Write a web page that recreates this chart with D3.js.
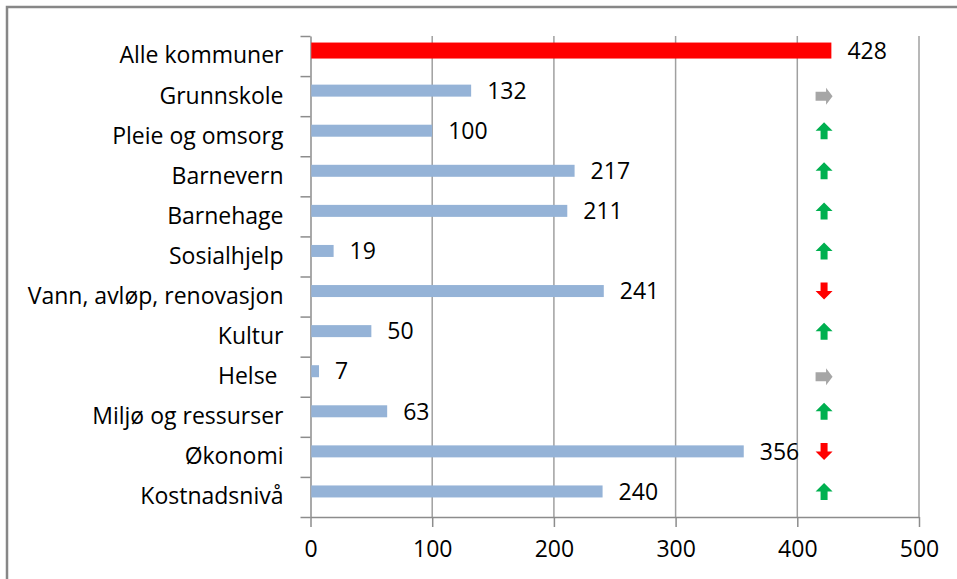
<!DOCTYPE html>
<html>
<head>
<meta charset="utf-8">
<script src="https://cdn.jsdelivr.net/npm/d3@7"></script>
<style>
  body { margin: 0; background: #fff; }
  text { font-family: "Open Sans", sans-serif; fill: #000; }
</style>
</head>
<body>
<div class="chart"></div>
<script>
'use strict';

// categories, top to bottom
var categories = ["Alle kommuner", "Grunnskole", "Pleie og omsorg", "Barnevern",
  "Barnehage", "Sosialhjelp", "Vann, avløp, renovasjon", "Kultur", "Helse\u00a0",
  "Miljø og ressurser", "Økonomi", "Kostnadsnivå"];
var values = [428, 132, 100, 217, 211, 19, 241, 50, 7, 63, 356, 240];
// trend markers: up, down, right (none for the total)
var trends = [null, "right", "up", "up", "up", "up", "down", "up", "right", "up", "down", "up"];
var xTicks = [0, 100, 200, 300, 400, 500];

function run() {
  var owidth = 957, oheight = 579;
  var m = {left: 310.5, right: 919, top: 36, bottom: 517};
  var trendAt = 422;
  var fs = "23px";

  var svg = d3.select(".chart").append("svg")
    .attr("width", owidth)
    .attr("height", oheight);

  // outer frame (runs off the page on right/bottom)
  svg.append("rect")
    .attr("x", 7).attr("y", 7)
    .attr("width", 1000).attr("height", 1000)
    .attr("fill", "none")
    .attr("stroke", "#878787")
    .attr("stroke-width", 2.5);

  var x = d3.scaleLinear().domain([0, 500]).range([m.left, m.right]);
  var y = d3.scaleBand().domain(categories).range([m.top, m.bottom]);
  var yEdge = d3.scaleLinear().domain([0, categories.length]).range([m.top, m.bottom]);

  // gridlines
  svg.append("g").selectAll("line")
    .data(xTicks.slice(1))
    .enter().append("line")
    .attr("x1", function(d) { return x(d); })
    .attr("x2", function(d) { return x(d); })
    .attr("y1", m.top).attr("y2", m.bottom)
    .attr("stroke", "#a0a0a0")
    .attr("stroke-width", 1.5);

  // x axis
  var xAxis = svg.append("g")
    .attr("transform", "translate(0," + m.bottom + ")")
    .call(d3.axisBottom(x).tickValues(xTicks).tickSize(10).tickPadding(14).tickSizeOuter(0));
  xAxis.select(".domain").attr("stroke", "#8c8c8c").attr("stroke-width", 1.5);
  xAxis.selectAll(".tick line").attr("stroke", "#8c8c8c").attr("stroke-width", 1.5);
  xAxis.selectAll("text").style("font-size", fs).attr("fill", "#000");

  // y axis: ticks at category edges
  var yTicks = svg.append("g")
    .attr("transform", "translate(" + m.left + ",0)")
    .call(d3.axisLeft(yEdge).ticks(categories.length).tickSize(10).tickFormat("").tickSizeOuter(0));
  yTicks.select(".domain").attr("stroke", "#8c8c8c").attr("stroke-width", 1.5);
  yTicks.selectAll(".tick line").attr("stroke", "#8c8c8c").attr("stroke-width", 1.5);

  // y axis labels
  var yLabels = svg.append("g")
    .attr("transform", "translate(" + m.left + ",0)")
    .call(d3.axisLeft(y).tickSize(0).tickPadding(27));
  yLabels.select(".domain").remove();
  yLabels.selectAll("text").style("font-size", fs).style("white-space", "pre").attr("fill", "#000");

  // bars
  var barOffset = -5.5;
  function barH(i) { return i === 0 ? 16 : 12; }
  svg.append("g").selectAll("rect")
    .data(values)
    .enter().append("rect")
    .attr("x", x(0) + 0.75)
    .attr("y", function(d, i) {
      return y(categories[i]) + y.bandwidth() / 2 + barOffset - barH(i) / 2;
    })
    .attr("width", function(d) { return x(d) - x(0) - 0.75; })
    .attr("height", function(d, i) { return barH(i); })
    .attr("fill", function(d, i) { return i === 0 ? "#ff0000" : "#95b3d7"; });

  // value labels
  svg.append("g").selectAll("text")
    .data(values)
    .enter().append("text")
    .attr("x", function(d) { return x(d) + 16; })
    .attr("y", function(d, i) { return y(categories[i]) + y.bandwidth() / 2 + barOffset; })
    .attr("dy", "0.36em")
    .style("font-size", fs)
    .text(function(d) { return d; });

  // trend arrows
  var arrowPaths = {
    up: "M0,-8.5 L8.5,0 L3.5,0 L3.5,8.5 L-3.5,8.5 L-3.5,0 L-8.5,0 Z",
    down: "M0,8.5 L8.5,0 L3.5,0 L3.5,-8.5 L-3.5,-8.5 L-3.5,0 L-8.5,0 Z",
    right: "M8.5,0 L2,-8.5 L2,-4.5 L-8.5,-4.5 L-8.5,4.5 L2,4.5 L2,8.5 Z"
  };
  var arrowColors = { up: "#00b050", down: "#ff0000", right: "#a6a6a6" };

  svg.append("g").selectAll("path")
    .data(trends.map(function(t, i) { return { trend: t, cat: categories[i] }; })
      .filter(function(d) { return d.trend; }))
    .enter().append("path")
    .attr("transform", function(d) {
      var cy = y(d.cat) + y.bandwidth() / 2 + (d.trend === "right" ? 0 : barOffset);
      return "translate(" + x(trendAt) + "," + cy + ")";
    })
    .attr("d", function(d) { return arrowPaths[d.trend]; })
    .attr("fill", function(d) { return arrowColors[d.trend]; });
}

document.addEventListener('DOMContentLoaded', run);
</script>
</body>
</html>
